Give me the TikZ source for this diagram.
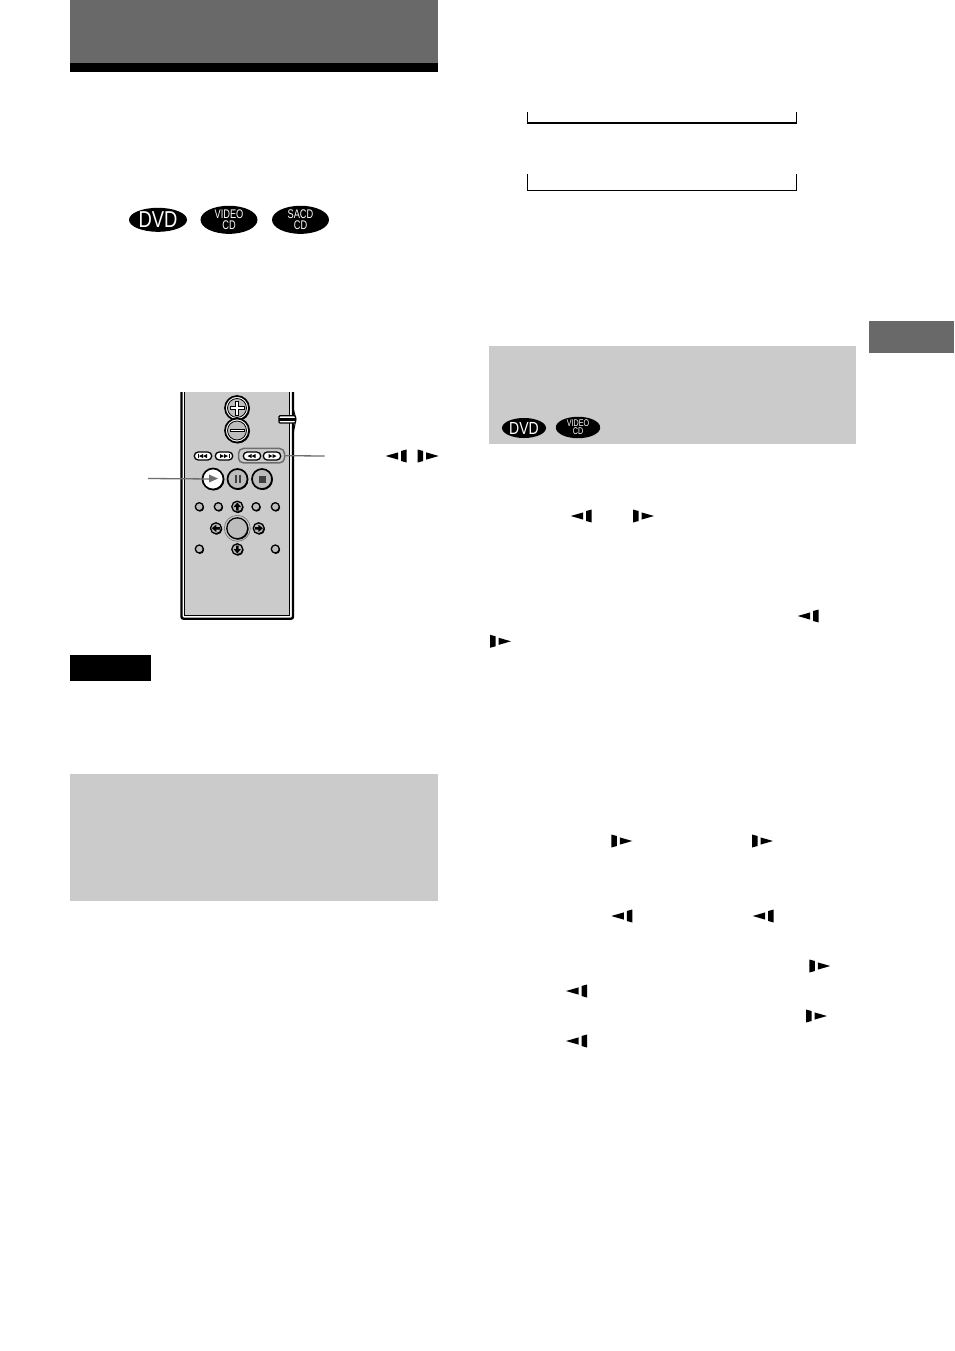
\documentclass[tikz,border=0pt]{standalone}
\usepackage{fontspec}
\setsansfont{Liberation Sans}
\usetikzlibrary{shapes.geometric,shadows}
\definecolor{bargray}{HTML}{696969}
\definecolor{boxgray}{HTML}{CBCBCB}
\definecolor{leadgray}{HTML}{6E6E6E}
\definecolor{btngray}{HTML}{BDBDBD}
\tikzset{
	discbig/.style={ellipse,fill=black,text=white,inner sep=0pt,minimum width=72.5pt,minimum height=24pt,font=\sffamily\fontsize{23}{23}\selectfont},
	discbigtwo/.style={ellipse,fill=black,text=white,inner sep=0pt,minimum width=77pt,minimum height=24pt,align=center,font=\sffamily\fontsize{12.5}{11}\selectfont},
	discsmall/.style={ellipse,fill=black,text=white,inner sep=0pt,minimum width=55pt,minimum height=20pt,font=\sffamily\fontsize{17.5}{17.5}\selectfont},
	discsmalltwo/.style={ellipse,fill=black,text=white,inner sep=0pt,minimum width=60pt,minimum height=19pt,align=center,font=\sffamily\fontsize{9.7}{8.3}\selectfont},
	btnshade/.style={drop shadow={shadow xshift=0.8pt,shadow yshift=-0.9pt,fill=black,opacity=1}},
	bigbtn/.style={circle,draw=black,line width=1.7pt,fill=btngray,inner sep=0pt,minimum size=20pt,btnshade},
	smallbtn/.style={circle,draw=black,line width=1.3pt,fill=btngray,inner sep=0pt,minimum size=8pt,btnshade},
	arrowbtn/.style={circle,draw=black,line width=1.3pt,fill=btngray,inner sep=0pt,minimum size=11pt,btnshade},
	skipbtn/.style={rounded corners=4pt,draw=black,line width=1.3pt,fill=white,inner sep=0pt,minimum width=17.5pt,minimum height=8pt},
	leader/.style={leadgray,line width=1.3pt},
	pics/backsym/.style={code={
		\fill[black] (0,0) -- (12.5,-3.6) -- (12.5,3.6) -- cycle;
		\fill[black] (15.5,-5) -- (21,-6.5) -- (21,6.5) -- (15.5,5) -- cycle;
	}},
	pics/forwsym/.style={code={
		\fill[black] (21,0) -- (8.5,-3.6) -- (8.5,3.6) -- cycle;
		\fill[black] (5.5,-5) -- (0,-6.5) -- (0,6.5) -- (5.5,5) -- cycle;
	}},
	pics/lefttwo/.style={code={
		\fill[black] (-4.5,0) -- (-0.5,-2) -- (-0.5,2) -- cycle;
		\fill[black] (-0.5,0) -- (3.5,-2) -- (3.5,2) -- cycle;
	}},
	pics/righttwo/.style={code={
		\fill[black] (4.5,0) -- (0.5,-2) -- (0.5,2) -- cycle;
		\fill[black] (0.5,0) -- (-3.5,-2) -- (-3.5,2) -- cycle;
	}}
}
\begin{document}
\begin{tikzpicture}[x=1pt,y=-1pt]
	\useasboundingbox[fill=white] (0,0) rectangle (954,1351);

	\fill[bargray] (70,0) rectangle (438,63);
	\fill[black] (70,63) rectangle (438,72);
	\fill[bargray] (869,321) rectangle (954,353);
	\fill[black] (70,655) rectangle (151,681);
	\fill[boxgray] (70,774) rectangle (438,901);
	\fill[boxgray] (489,346) rectangle (856,444);

	\draw[black,line width=1pt] (527.3,112) -- (527.3,122.7);
	\draw[black,line width=1pt] (796.5,112) -- (796.5,122.7);
	\draw[black,line width=2pt] (526.7,122.7) -- (797,122.7);
	\draw[black,line width=1pt] (527.3,174) -- (527.3,191) -- (796.5,191) -- (796.5,174);

	\node[discbig,xscale=0.8] (dvdtop) at (158,219.8) {DVD};
	\node[discbigtwo,xscale=0.74] (videotop) at (229,219.8) {VIDEO\\CD};
	\node[discbigtwo,xscale=0.74] (sacdtop) at (300.5,219.8) {SACD\\CD};
	\node[discsmall,xscale=0.8] (dvdbox) at (524,428) {DVD};
	\node[discsmalltwo,xscale=0.74] (videobox) at (578,427.5) {VIDEO\\CD};

	\fill[boxgray] (184.5,392) rectangle (289.5,615.5);
	\draw[black,line width=0.9pt] (184.5,392) -- (184.5,615.5) -- (289.5,615.5) -- (289.5,392);
	\draw[black,line width=2.4pt,rounded corners=2pt] (181.5,392) -- (181.5,618.7) -- (293,618.7) -- (293,392);

	\draw[black,line width=1pt] (293,408) -- (296,419) -- (293,434);
	\draw[black,line width=1.3pt,fill=white,rounded corners=1pt] (279,415.7) rectangle (295.5,423);
	\fill[black] (279,418.2) rectangle (295.5,420.6);

	\node[bigbtn,fill=white,minimum size=24pt] (plusbtn) at (237,408) {};
	\node[bigbtn,fill=white,minimum size=24pt] (minusbtn) at (237,430.5) {};
	\node[circle,draw=black,line width=0.8pt,fill=btngray,inner sep=0pt,minimum size=19pt] (plusin) at (237,408) {};
	\node[circle,draw=black,line width=0.8pt,fill=btngray,inner sep=0pt,minimum size=19pt] (minusin) at (237,430.5) {};
	\draw[black,line width=3.4pt] (229.5,408) -- (244.5,408);
	\draw[black,line width=3.4pt] (237,400.5) -- (237,415.5);
	\draw[white,line width=1.4pt] (230.5,408) -- (243.5,408);
	\draw[white,line width=1.4pt] (237,401.5) -- (237,414.5);
	\draw[black,line width=3.4pt] (229.5,430.5) -- (244.5,430.5);
	\draw[white,line width=1pt] (230.5,430.5) -- (243.5,430.5);

	\node[skipbtn] (prevbtn) at (203,456) {};
	\node[skipbtn] (nextbtn) at (224,456) {};
	\node[rounded corners=5pt,draw=leadgray,line width=1.5pt,fill=boxgray,inner sep=0pt,minimum width=46pt,minimum height=14.5pt] (scangroup) at (261.5,455.7) {};
	\node[skipbtn] (backbtn) at (252,456) {};
	\node[skipbtn] (forwbtn) at (272,456) {};
	\pic at (203.5,456) {lefttwo};
	\pic at (223.5,456) {righttwo};
	\pic at (252,456) {lefttwo};
	\pic at (272,456) {righttwo};
	\fill[black] (197.5,453.8) rectangle (198.5,458.2);
	\fill[black] (229,453.8) rectangle (230,458.2);

	\node[bigbtn,fill=white,minimum size=21pt] (playbtn) at (213,479) {};
	\node[bigbtn] (pausebtn) at (237.5,479) {};
	\node[bigbtn] (stopbtn) at (262,479) {};
	\fill[black!75] (234.5,475) rectangle (236.5,483);
	\fill[black!75] (238.5,475) rectangle (240.5,483);
	\fill[black!75] (258.5,475.5) rectangle (265.5,482.5);

	\foreach \xpos/\ypos/\btnname in {199.3/506.7/sa,218.3/506.7/sb,256/506.7/sc,275.3/506.7/sd,199.3/549/se,275.3/549/sf}
		\node[smallbtn] (\btnname) at (\xpos,\ypos) {};

	\node[arrowbtn] (upbtn) at (237.3,506.7) {};
	\node[arrowbtn] (downbtn) at (237.3,549.3) {};
	\node[arrowbtn] (leftbtn) at (216,528.3) {};
	\node[arrowbtn] (rightbtn) at (258.7,528.3) {};
	\fill[black] (237.3,502.5) -- (241,507) -- (238.5,507) -- (238.5,510.5) -- (236.1,510.5) -- (236.1,507) -- (233.6,507) -- cycle;
	\fill[black] (237.3,553.5) -- (241,549) -- (238.5,549) -- (238.5,545.5) -- (236.1,545.5) -- (236.1,549) -- (233.6,549) -- cycle;
	\fill[black] (211.8,528.3) -- (216.3,524.6) -- (216.3,527.1) -- (219.8,527.1) -- (219.8,529.5) -- (216.3,529.5) -- (216.3,532) -- cycle;
	\fill[black] (262.9,528.3) -- (258.4,524.6) -- (258.4,527.1) -- (254.9,527.1) -- (254.9,529.5) -- (258.4,529.5) -- (258.4,532) -- cycle;

	\node[circle,draw=leadgray,line width=0.6pt,inner sep=0pt,minimum size=26pt] (okring) at (237.3,528.3) {};
	\node[circle,draw=black,line width=1.3pt,fill=btngray,inner sep=0pt,minimum size=21pt,btnshade] (okbtn) at (237.3,528.3) {};

	\coordinate (playend) at (148,478.5);
	\coordinate (scanend) at (324.5,456);
	\draw[leader] (playend) -- (playbtn.center);
	\fill[leadgray] (218,478.5) -- (209,474.5) -- (209,482.5) -- cycle;
	\draw[leader] (scangroup.east) -- (scanend);

	\foreach \xpos/\ypos in {385.6/456,570.7/516,797.7/616,611.3/916,752.7/916,566/991,566/1041}
		\pic at (\xpos,\ypos) {backsym};
	\foreach \xpos/\ypos in {417.7/456,633/516,490/641.3,611.3/841,752/841,809.3/966,806/1016}
		\pic at (\xpos,\ypos) {forwsym};
\end{tikzpicture}
\end{document}
